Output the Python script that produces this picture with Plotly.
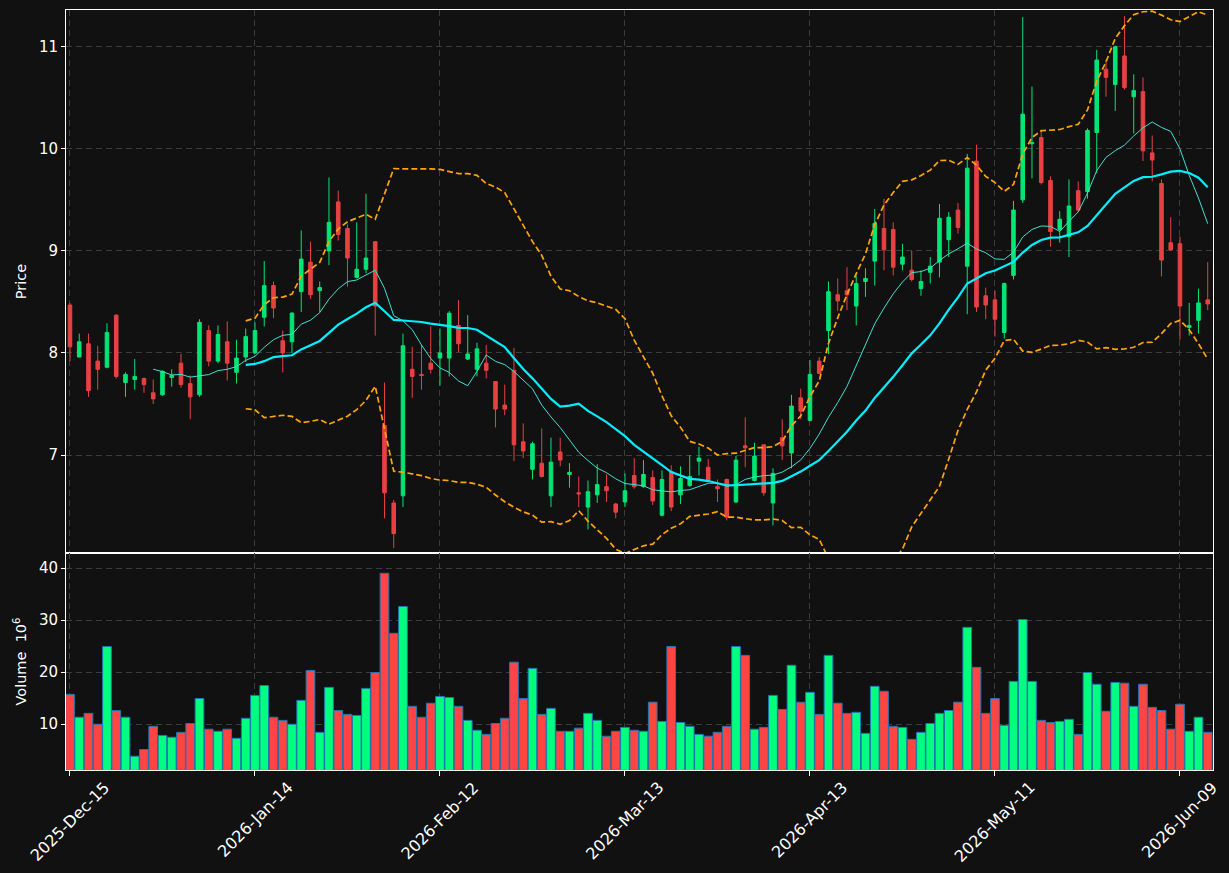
import numpy as np
import pandas as pd
import plotly.graph_objects as go

# ---------------- data ----------------
opens = [8.47, 7.96, 8.09, 7.92, 7.86, 8.37, 7.71, 7.74, 7.75, 7.61,
         7.59, 7.76, 7.90, 7.70, 7.59, 8.22, 7.92, 8.11, 7.81, 7.96,
         8.00, 8.35, 8.66, 8.12, 8.11, 8.60, 8.89, 8.61, 9.00, 9.48,
         9.22, 8.74, 8.82, 9.09, 7.29, 6.53, 6.60, 7.84, 7.79, 7.90,
         7.95, 7.95, 8.27, 7.94, 7.84, 7.90, 7.72, 7.49, 7.83, 7.13,
         6.86, 6.92, 6.60, 7.03, 6.81, 6.63, 6.49, 6.61, 6.69, 6.52,
         6.54, 6.80, 6.69, 6.78, 6.41, 6.84, 6.61, 6.70, 6.94, 6.88,
         6.69, 6.76, 6.54, 7.09, 6.75, 7.10, 6.53, 7.17, 7.02, 7.56,
         7.34, 7.92, 8.22, 8.57, 8.61, 8.46, 8.70, 8.90, 9.22, 9.21,
         8.87, 8.81, 8.63, 8.79, 8.89, 9.11, 9.40, 8.85, 9.88, 8.56,
         8.52, 8.20, 8.76, 9.50, 10.05, 10.11, 9.69, 9.21, 9.14, 9.59,
         9.58, 10.16, 10.78, 10.63, 10.91, 10.51, 10.56, 9.96, 9.66, 9.08,
         9.07, 8.25, 8.32, 8.52]
highs = [8.49, 8.19, 8.19, 8.07, 8.29, 8.38, 7.81, 7.94, 7.76, 7.74,
         7.83, 7.84, 7.99, 7.78, 8.33, 8.27, 8.27, 8.31, 8.13, 8.24,
         8.30, 8.90, 8.70, 8.22, 8.40, 9.20, 9.09, 8.70, 9.72, 9.59,
         9.26, 9.28, 9.56, 9.09, 7.71, 6.56, 8.19, 8.06, 8.08, 8.26,
         8.24, 8.41, 8.52, 8.37, 8.10, 8.08, 7.72, 7.69, 8.05, 7.31,
         7.13, 7.26, 7.17, 7.17, 6.92, 6.79, 6.75, 6.91, 6.81, 6.53,
         6.82, 6.97, 6.95, 6.85, 6.85, 6.90, 6.89, 7.00, 7.08, 6.96,
         6.76, 6.77, 6.99, 7.37, 7.12, 7.10, 6.87, 7.35, 7.59, 7.65,
         7.93, 7.96, 8.70, 8.73, 8.84, 8.76, 8.83, 9.41, 9.51, 9.28,
         9.07, 9.00, 8.81, 8.94, 9.46, 9.38, 9.47, 9.95, 10.04, 8.64,
         8.61, 8.69, 9.49, 11.29, 10.61, 10.19, 9.73, 9.39, 9.70, 9.68,
         10.20, 10.97, 10.87, 11.01, 11.30, 10.73, 10.70, 10.13, 9.70, 9.33,
         9.14, 8.49, 8.63, 8.89]
lows = [7.92, 7.96, 7.57, 7.64, 7.85, 7.75, 7.57, 7.64, 7.61, 7.50,
        7.58, 7.67, 7.66, 7.35, 7.57, 7.87, 7.90, 7.73, 7.70, 7.91,
        7.99, 8.26, 8.34, 7.81, 8.00, 8.40, 8.53, 8.40, 8.86, 9.10,
        8.65, 8.73, 8.78, 8.17, 6.38, 6.09, 6.49, 7.56, 7.64, 7.80,
        7.68, 7.77, 8.01, 7.93, 7.77, 7.75, 7.27, 7.39, 6.94, 6.97,
        6.76, 6.78, 6.49, 6.89, 6.68, 6.49, 6.27, 6.53, 6.54, 6.38,
        6.49, 6.67, 6.68, 6.51, 6.40, 6.45, 6.52, 6.69, 6.80, 6.74,
        6.54, 6.36, 6.53, 6.88, 6.74, 6.60, 6.31, 6.95, 6.87, 7.35,
        7.33, 7.79, 7.99, 8.41, 8.42, 8.27, 8.55, 8.66, 8.81, 8.76,
        8.81, 8.70, 8.56, 8.68, 8.74, 8.94, 9.17, 8.38, 8.40, 8.33,
        8.16, 8.14, 8.72, 9.47, 9.71, 9.65, 9.04, 9.08, 8.94, 9.38,
        9.51, 9.76, 10.51, 10.37, 10.58, 10.15, 9.88, 9.68, 8.75, 9.00,
        8.13, 8.17, 8.19, 8.42]
closes = [8.06, 8.11, 7.63, 7.84, 8.20, 7.77, 7.79, 7.77, 7.69, 7.55,
          7.82, 7.78, 7.69, 7.57, 8.30, 7.92, 8.18, 7.90, 7.95, 8.16,
          8.22, 8.66, 8.44, 8.00, 8.39, 8.92, 8.57, 8.64, 9.28, 9.16,
          8.93, 8.82, 8.93, 8.46, 6.63, 6.23, 8.07, 7.77, 7.78, 7.84,
          8.00, 8.39, 8.09, 7.99, 8.04, 7.83, 7.45, 7.45, 7.10, 7.04,
          7.11, 6.79, 6.93, 6.95, 6.83, 6.62, 6.64, 6.71, 6.65, 6.44,
          6.65, 6.69, 6.81, 6.55, 6.76, 6.49, 6.77, 6.79, 6.97, 6.75,
          6.67, 6.39, 6.95, 7.07, 6.99, 6.63, 6.82, 7.09, 7.48, 7.43,
          7.79, 7.80, 8.60, 8.51, 8.57, 8.68, 8.73, 9.27, 9.01, 8.84,
          8.94, 8.72, 8.70, 8.85, 9.32, 9.33, 9.23, 9.81, 8.45, 8.47,
          8.33, 8.68, 9.40, 10.34, 10.06, 9.67, 9.19, 9.31, 9.44, 9.40,
          10.18, 10.87, 10.70, 11.00, 10.60, 10.57, 9.98, 9.89, 8.91, 9.01,
          8.46, 8.27, 8.49, 8.48]
volumes = [15.7, 11.3, 12.05, 9.95, 24.9, 12.6, 11.3, 3.8, 5.1, 9.55,
           7.8, 7.45, 8.4, 10.1, 14.9, 9.0, 8.6, 9.0, 7.25, 11.1,
           15.5, 17.4, 11.3, 10.7, 9.95, 14.55, 20.3, 8.4, 17.05, 12.6,
           11.85, 11.65, 16.85, 19.9, 39.0, 27.45, 32.6, 13.4, 11.3, 14.0,
           15.3, 15.1, 13.4, 10.7, 8.8, 8.0, 10.1, 11.1, 21.9, 14.9,
           20.7, 11.85, 13.0, 8.6, 8.6, 9.2, 12.05, 10.7, 7.65, 8.6,
           9.35, 8.8, 8.6, 14.2, 10.5, 24.9, 10.3, 9.55, 8.0, 7.65,
           8.4, 9.55, 24.9, 23.2, 9.0, 9.35, 15.5, 12.8, 21.3, 14.2,
           16.1, 11.85, 23.2, 14.0, 12.05, 12.25, 8.2, 17.25, 16.3, 9.55,
           9.35, 7.05, 8.4, 10.1, 12.05, 12.6, 14.2, 28.6, 20.9, 12.05,
           14.9, 9.75, 18.2, 30.1, 18.2, 10.7, 10.3, 10.5, 10.9, 8.0,
           19.9, 17.65, 12.45, 18.0, 17.85, 13.4, 17.65, 13.2, 12.6, 9.0,
           13.8, 8.6, 11.3, 8.4]  # in millions
tick_positions = [0, 20, 40, 60, 80, 100, 120]
tick_labels = ["2025-Dec-15", "2026-Jan-14", "2026-Feb-12", "2026-Mar-13",
               "2026-Apr-13", "2026-May-11", "2026-Jun-09"]

# ---------------- derived indicators ----------------
idx = list(range(len(closes)))
cs = pd.Series(closes)
ma10 = cs.rolling(10).mean()
ma20 = cs.rolling(20).mean()
sd20 = cs.rolling(20).std(ddof=0)
upper = ma20 + 2 * sd20
lower = ma20 - 2 * sd20


def clean(s):
    return [None if pd.isna(v) else float(v) for v in s]


UP = "#00e676"
DOWN = "#e84142"
VUP = "#00ff7f"
VDOWN = "#ff4444"
vol_colors = [VUP if c >= o else VDOWN for o, c in zip(opens, closes)]

BG = "#111111"
GRID = "#3c3c3c"
FONT = "DejaVu Sans"

fig = go.Figure()
fig.add_trace(go.Candlestick(
    x=idx, open=opens, high=highs, low=lows, close=closes,
    increasing=dict(line=dict(color=UP, width=1), fillcolor=UP),
    decreasing=dict(line=dict(color=DOWN, width=1), fillcolor=DOWN),
    xaxis="x", yaxis="y", showlegend=False))
fig.add_trace(go.Scatter(x=idx, y=clean(upper), mode="lines",
                         line=dict(color="#ffa500", width=1.7, dash="6px,3px"),
                         xaxis="x", yaxis="y", showlegend=False))
fig.add_trace(go.Scatter(x=idx, y=clean(lower), mode="lines",
                         line=dict(color="#ffa500", width=1.7, dash="6px,3px"),
                         xaxis="x", yaxis="y", showlegend=False))
fig.add_trace(go.Scatter(x=idx, y=clean(ma10), mode="lines",
                         line=dict(color="#40e0d0", width=1),
                         xaxis="x", yaxis="y", showlegend=False))
fig.add_trace(go.Scatter(x=idx, y=clean(ma20), mode="lines",
                         line=dict(color="#00f0ff", width=2.2),
                         xaxis="x", yaxis="y", showlegend=False))
fig.add_trace(go.Bar(x=idx, y=volumes, width=0.94,
                     marker=dict(color=vol_colors, line=dict(color="#1f77b4", width=1)),
                     xaxis="x2", yaxis="y2", showlegend=False))

xr = [-0.43, 123.57]
common_axis = dict(showline=True, mirror=True, linecolor="white", linewidth=1,
                   showgrid=True, gridcolor=GRID, griddash="6px,4px", gridwidth=1,
                   zeroline=False, automargin=False,
                   tickfont=dict(family=FONT, size=15, color="white"))

split = (770 - 553) / 760.0

# date labels, centred under their ticks and rotated 45 degrees
annotations = [
    dict(x=p, y=0, xref="x2", yref="paper", text=t, showarrow=False,
         textangle=-45, xanchor="center", yanchor="top", yshift=-5,
         font=dict(family=FONT, size=16, color="white"))
    for p, t in zip(tick_positions, tick_labels)
]

fig.update_layout(
    width=1229, height=873,
    paper_bgcolor=BG, plot_bgcolor=BG,
    margin=dict(l=66, r=16, t=10, b=103),
    boxgap=0.45,
    font=dict(family=FONT, size=14, color="white"),
    xaxis=dict(domain=[0, 1], anchor="y", range=xr, tickvals=tick_positions,
               showticklabels=False, ticks="", rangeslider=dict(visible=False),
               **common_axis),
    xaxis2=dict(domain=[0, 1], anchor="y2", matches="x", range=xr,
                tickvals=tick_positions, showticklabels=False,
                ticks="outside", ticklen=5, tickcolor="white",
                **common_axis),
    yaxis=dict(domain=[split, 1], anchor="x", range=[6.04, 11.36],
               tickvals=[7, 8, 9, 10, 11], ticks="outside", ticklen=4,
               tickcolor="white",
               title=dict(text="Price", font=dict(family=FONT, size=14.5, color="white"), standoff=8),
               **common_axis),
    yaxis2=dict(domain=[0, split], anchor="x2", range=[1.15, 42.9],
                tickvals=[10, 20, 30, 40], ticks="outside", ticklen=4,
                tickcolor="white",
                title=dict(text="Volume  10<sup>6</sup>", font=dict(family=FONT, size=14.5, color="white"), standoff=8),
                **common_axis),
    annotations=annotations,
    hovermode=False,
)

fig.write_html("out.html", config={"displayModeBar": False})
